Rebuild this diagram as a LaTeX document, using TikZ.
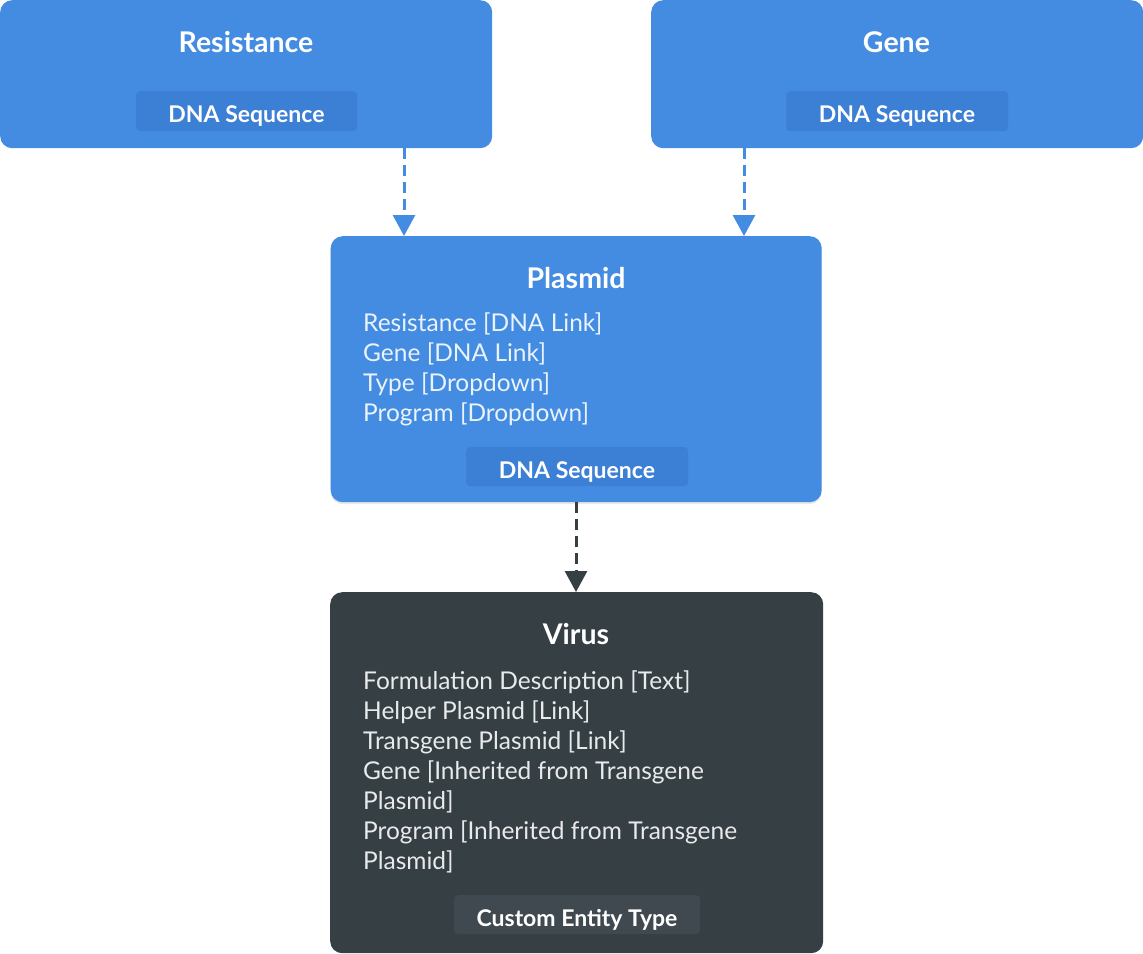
\documentclass[tikz,border=0pt]{standalone}
\usepackage{fontspec}
\setmainfont{Lato}
\usetikzlibrary{arrows.meta,shadows}
\definecolor{cblue}{HTML}{438CE1}
\definecolor{cbluepill}{HTML}{3C80D6}
\definecolor{cdark}{HTML}{353F44}
\definecolor{cdarkpill}{HTML}{3F494F}
\definecolor{cbodyb}{HTML}{EAF2FC}
\definecolor{cbodyd}{HTML}{E8EAEB}
\tikzset{
  box/.style={fill=#1, rounded corners=12pt, anchor=north west, inner sep=0pt, draw=none},
  pill/.style={fill=#1, rounded corners=4pt, inner sep=0pt, draw=none, anchor=north west},
  ttl/.style={anchor=base, text=white, inner sep=0pt, font=\fontsize{28.5}{32}\selectfont\bfseries},
  pilltxt/.style={anchor=base, text=white, inner sep=0pt, font=\fontsize{23}{26}\selectfont\bfseries},
  body/.style={anchor=base west, text=#1, inner sep=0pt, font=\fontsize{24.5}{30}\selectfont},
  conn/.style={draw=#1, line width=3pt, dash pattern=on 11pt off 6pt, -{Triangle[width=22pt,length=21pt]}},
}
\begin{document}
\begin{tikzpicture}[x=1pt,y=-1pt]
\useasboundingbox (0,0) rectangle (1143,953);
% Resistance
\node[box=cblue, minimum width=492pt, minimum height=148pt] (res) at (0,0) {};
\node[ttl] (resT) at (246,52.5) {Resistance};
\node[pill=cbluepill, minimum width=221pt, minimum height=40pt] (resP) at (136,91) {};
\node[pilltxt] (resPT) at (246.5,122.5) {DNA Sequence};
% Gene
\node[box=cblue, minimum width=492pt, minimum height=148pt] (gene) at (651,0) {};
\node[ttl] (geneT) at (896.5,52.5) {Gene};
\node[pill=cbluepill, minimum width=222pt, minimum height=40pt] (geneP) at (786,91) {};
\node[pilltxt] (genePT) at (897,122.5) {DNA Sequence};
% Plasmid
\node[box=cblue, minimum width=491pt, minimum height=266pt, drop shadow={opacity=0.18, shadow xshift=0pt, shadow yshift=-2pt}] (pl) at (330.5,236) {};
\node[ttl] (plT) at (576,288.5) {Plasmid};
\node[body=cbodyb] (pl1) at (363,331) {Resistance [DNA Link]};
\node[body=cbodyb] (pl2) at (363,361) {Gene [DNA Link]};
\node[body=cbodyb] (pl3) at (363,391) {Type [Dropdown]};
\node[body=cbodyb] (pl4) at (363,421) {Program [Dropdown]};
\node[pill=cbluepill, minimum width=222pt, minimum height=39pt] (plP) at (466,447) {};
\node[pilltxt] (plPT) at (577,478) {DNA Sequence};
% Virus
\node[box=cdark, minimum width=493pt, minimum height=361pt] (vir) at (330,592) {};
\node[ttl] (virT) at (576,644) {Virus};
\node[body=cbodyd] (v1) at (363,689) {Formulation Description [Text]};
\node[body=cbodyd] (v2) at (363,719) {Helper Plasmid [Link]};
\node[body=cbodyd] (v3) at (363,749) {Transgene Plasmid [Link]};
\node[body=cbodyd] (v4) at (363,779) {Gene [Inherited from Transgene};
\node[body=cbodyd] (v5) at (363,809) {Plasmid]};
\node[body=cbodyd] (v6) at (363,839) {Program [Inherited from Transgene};
\node[body=cbodyd] (v7) at (363,869) {Plasmid]};
\node[pill=cdarkpill, minimum width=246pt, minimum height=39pt] (virP) at (454,895) {};
\node[pilltxt] (virPT) at (577,926) {Custom Entity Type};
% connector end points on the Plasmid / Virus tops
\coordinate (plin1) at (404,236);
\coordinate (plin2) at (744,236);
\coordinate (virin) at (576,592);
\draw[conn=cblue] (res.south -| plin1) -- (plin1);
\draw[conn=cblue] (gene.south -| plin2) -- (plin2);
\draw[conn=cdark] (pl.south -| virin) -- (virin);
\end{tikzpicture}
\end{document}
